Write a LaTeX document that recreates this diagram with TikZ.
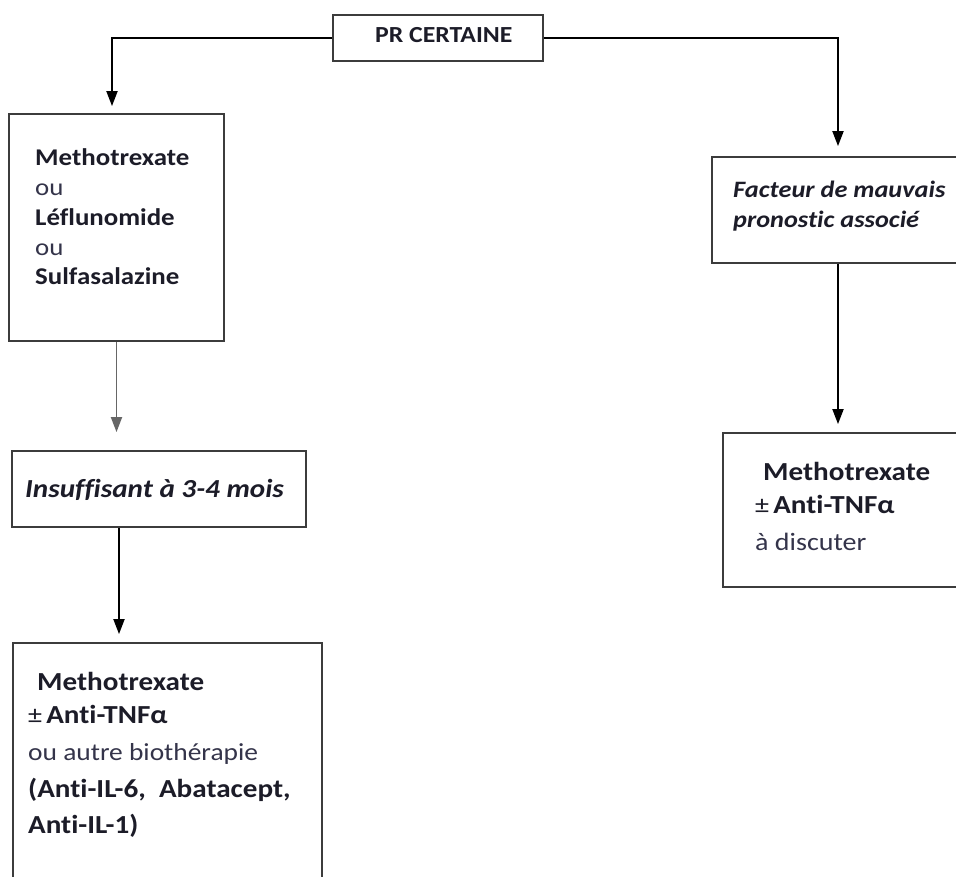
\documentclass[tikz,border=0pt]{standalone}
\usepackage{fontspec}
\setmainfont{Carlito}[FakeStretch=1.12, Ligatures=NoCommon]
\usetikzlibrary{arrows.meta}
\definecolor{boxgray}{HTML}{3C3C3C}
\definecolor{txtdark}{HTML}{1C1C28}
\definecolor{txtreg}{HTML}{34344A}
\tikzset{
  boxnode/.style={draw=boxgray, line width=1.8pt, rectangle, inner sep=0pt, fill=white},
  txt/.style={inner sep=0pt, anchor=base west, text=txtdark},
  arr/.style={draw=black, line width=1.9pt, -{Triangle[width=11pt,length=15pt]}},
  arrgray/.style={draw=black!60, line width=1.8pt, -{Triangle[width=11pt,length=15pt]}},
}
\newcommand{\fsz}[1]{\fontsize{#1}{#1}\selectfont}
\begin{document}
\begin{tikzpicture}[x=1pt,y=-1pt]
\useasboundingbox (0,0) rectangle (956,877);
\clip (0,0) rectangle (956,877);
% boxes
\node[boxnode, minimum width=210pt, minimum height=46pt] (pr) at (438,38) {};
\node[boxnode, minimum width=215pt, minimum height=227pt] (b1) at (116.5,227.5) {};
\node[boxnode, minimum width=294pt, minimum height=76pt] (b2) at (159,489) {};
\node[boxnode, minimum width=309pt, minimum height=257pt] (b3) at (167.5,771.5) {};
\node[boxnode, minimum width=278pt, minimum height=106pt] (b4) at (851,210) {};
\node[boxnode, minimum width=267pt, minimum height=154pt] (b5) at (856.5,510) {};
% texts
\node[txt, font=\bfseries\fsz{23pt}] (tpr) at (375,43) {PR CERTAINE};
\node[txt, font=\bfseries\fsz{24pt}] (t1a) at (35,166) {Methotrexate};
\node[txt, font=\fsz{24pt}, text=txtreg] (t1b) at (35,196) {ou};
\node[txt, font=\bfseries\fsz{24pt}] (t1c) at (35,226) {Léflunomide};
\node[txt, font=\fsz{24pt}, text=txtreg] (t1d) at (35,256) {ou};
\node[txt, font=\bfseries\fsz{24pt}] (t1e) at (35,285) {Sulfasalazine};
\node[txt, font=\bfseries\itshape\fsz{26pt}] (t2) at (25,497) {Insuffisant à 3-4 mois};
\node[txt, font=\bfseries\fsz{26pt}] (t3a) at (37,690) {Methotrexate};
\node[txt, font=\fsz{25pt}] (t3b) at (28,723) {±\,\bfseries\fsz{26pt}Anti-TNFα};
\node[txt, font=\fsz{24.5pt}, text=txtreg] (t3c) at (28,760) {ou autre biothérapie};
\node[txt, font=\bfseries\fsz{26pt}] (t3d) at (28,797) {(Anti-IL-6,\ \ Abatacept,};
\node[txt, font=\bfseries\fsz{26pt}] (t3e) at (28,833) {Anti-IL-1)};
\node[txt, font=\bfseries\itshape\fsz{23.5pt}] (t4a) at (733,198) {Facteur de mauvais};
\node[txt, font=\bfseries\itshape\fsz{23.5pt}] (t4b) at (733,228) {pronostic associé};
\node[txt, font=\bfseries\fsz{26pt}] (t5a) at (763,480) {Methotrexate};
\node[txt, font=\fsz{25pt}] (t5b) at (755,513) {±\,\bfseries\fsz{26pt}Anti-TNFα};
\node[txt, font=\fsz{25pt}, text=txtreg] (t5c) at (755,550) {à discuter};
% connectors
\draw[arr, shorten >=7pt] (pr.west) -| ([xshift=-4.5pt]b1.north);
\draw[arr, shorten >=10pt] (pr.east) -| ([xshift=-13pt]b4.north);
\draw[arrgray, shorten >=18pt] (b1.south) -- (b1.south |- b2.north);
\draw[arr, shorten >=8pt] ([xshift=-40pt]b2.south) -- ([xshift=-40pt]b2.south |- b3.north);
\draw[arr, shorten >=8pt] ([xshift=-13pt]b4.south) -- ([xshift=-13pt]b4.south |- b5.north);
\end{tikzpicture}
\end{document}
